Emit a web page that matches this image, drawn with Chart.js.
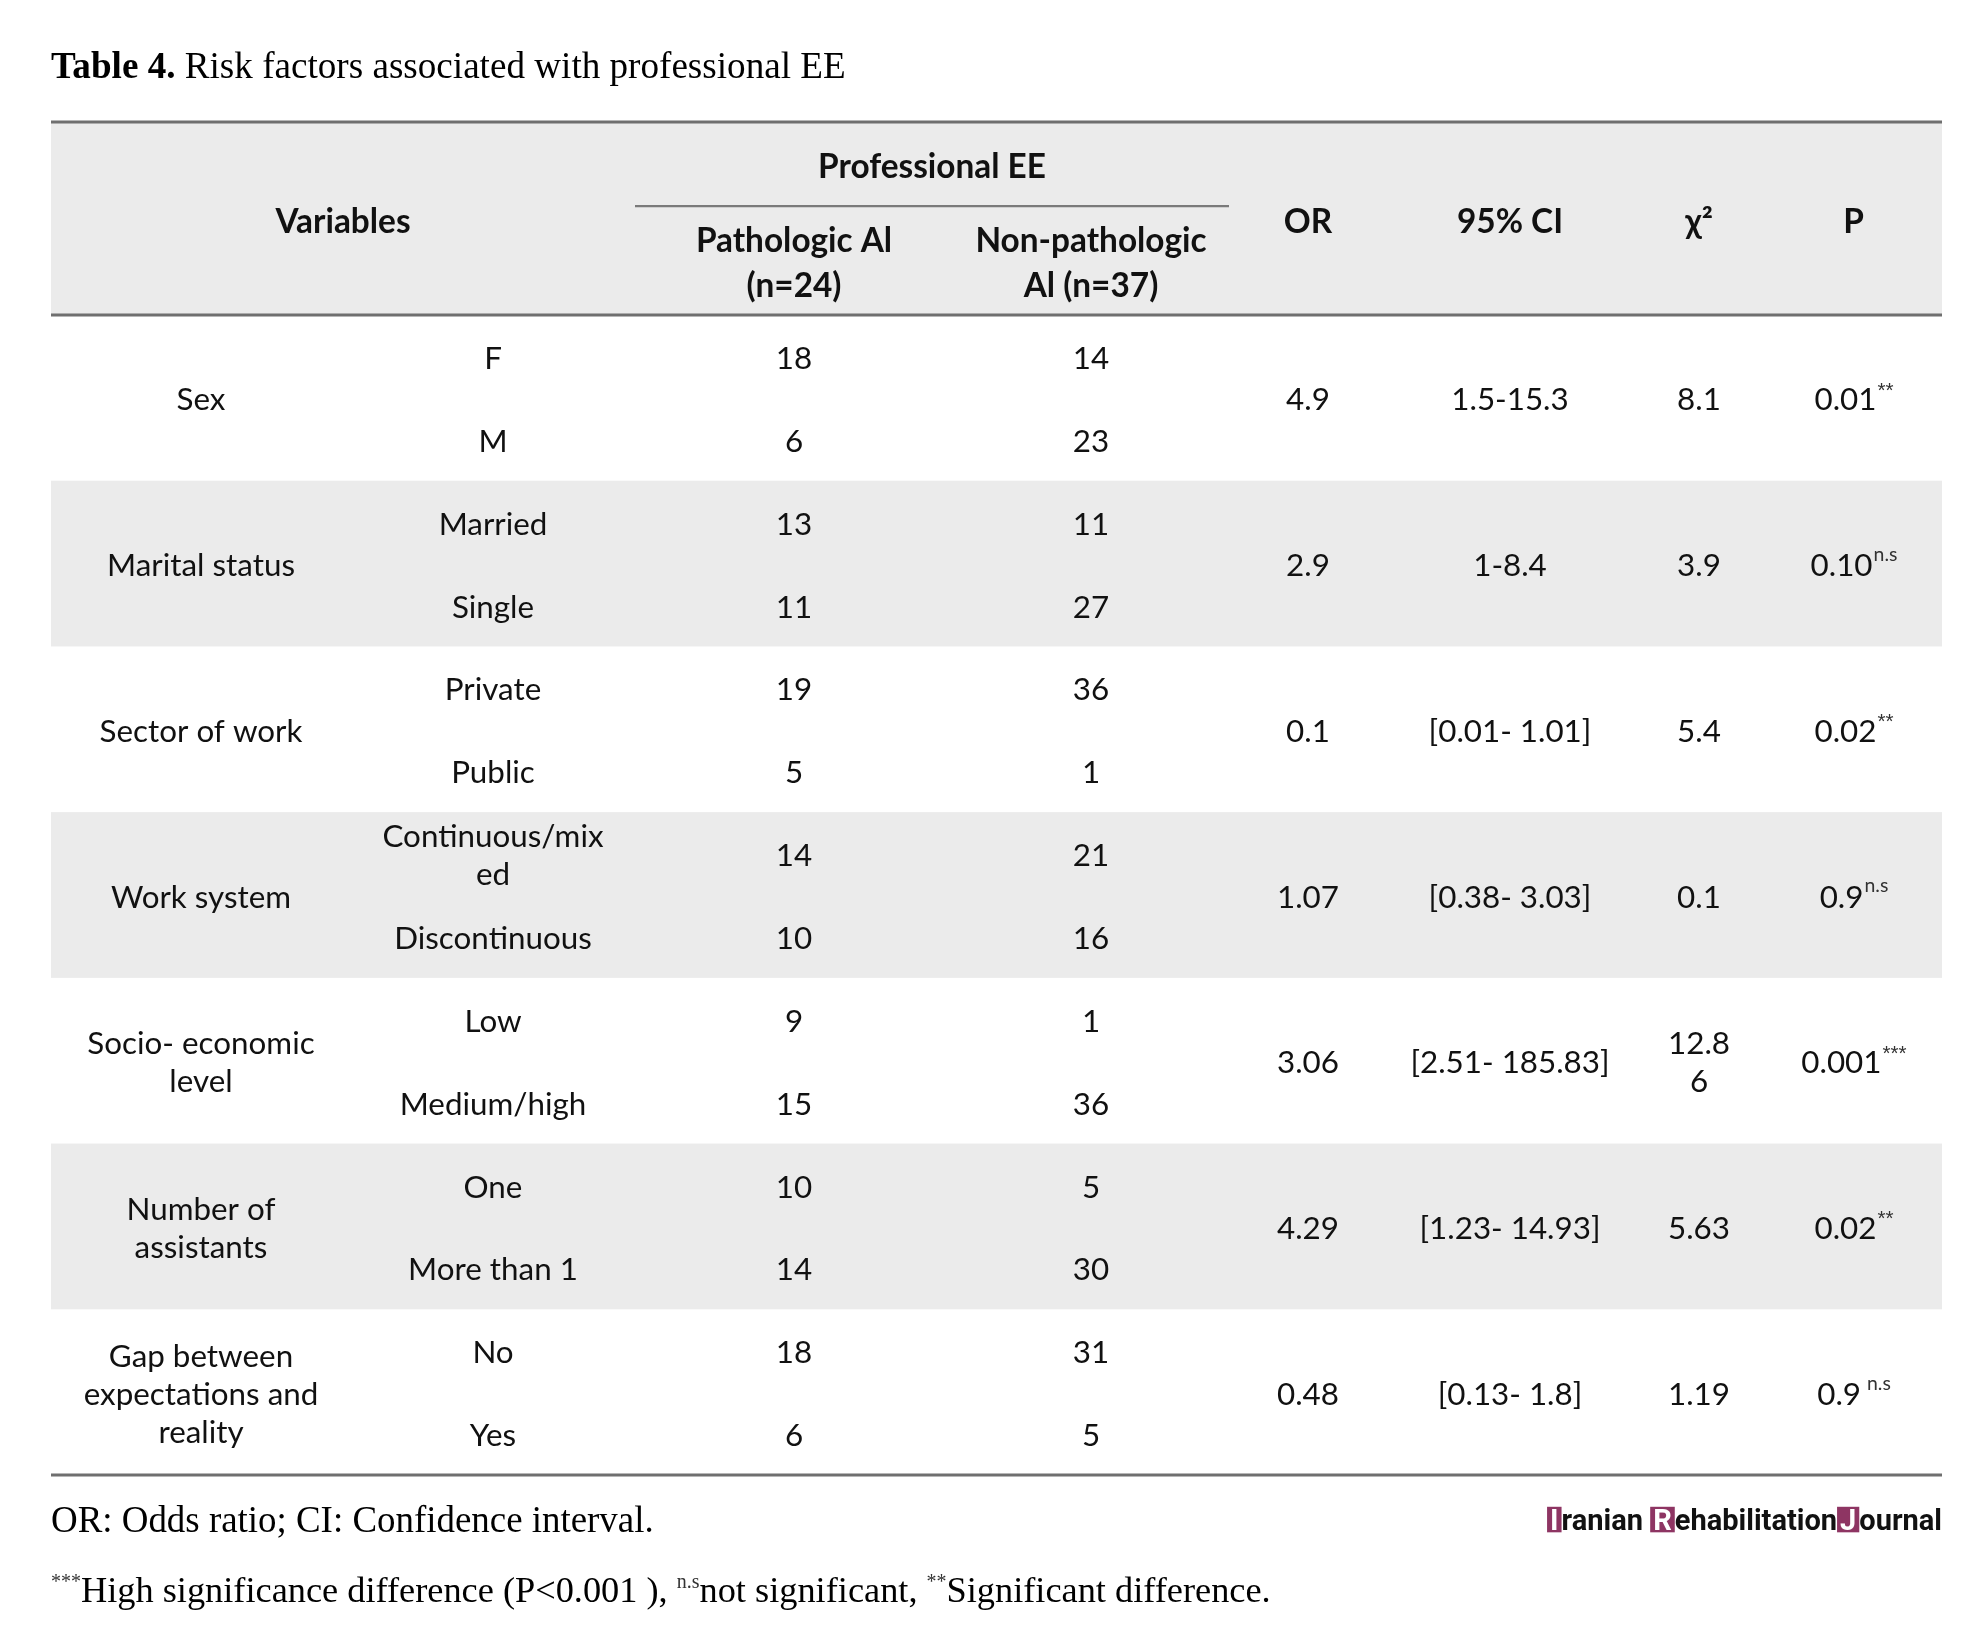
<!DOCTYPE html>
<html>
<head>
<meta charset="utf-8">
<script src="https://cdn.jsdelivr.net/npm/chart.js@4.4.1/dist/chart.umd.min.js"></script>
<style>
  html, body { margin: 0; padding: 0; background: #ffffff; }
  #wrap { position: relative; width: 1978px; height: 1633px; }
</style>
</head>
<body>
<div id="wrap"><canvas id="c"></canvas></div>
<script>
// ---------------- DATA ----------------
const tableTitleBold = "Table 4.";
const tableTitleText = " Risk factors associated with professional EE";
const spanHeader = "Professional EE";
const columnHeaders = ["Variables", "", "Pathologic Al\n(n=24)", "Non-pathologic\nAl (n=37)", "OR", "95% CI", "χ²", "P"];
const groupLabels = ["Sex", "Marital status", "Sector of work", "Work system", "Socio- economic\nlevel", "Number of\nassistants", "Gap between\nexpectations and\nreality"];
const subLabels = ["F", "M", "Married", "Single", "Private", "Public", "Continuous/mix\ned", "Discontinuous", "Low", "Medium/high", "One", "More than 1", "No", "Yes"];
const pathologicAI = [18, 6, 13, 11, 19, 5, 14, 10, 9, 15, 10, 14, 18, 6];
const nonPathologicAI = [14, 23, 11, 27, 36, 1, 21, 16, 1, 36, 5, 30, 31, 5];
const oddsRatio = ["4.9", "2.9", "0.1", "1.07", "3.06", "4.29", "0.48"];
const ci95 = ["1.5-15.3", "1-8.4", "[0.01- 1.01]", "[0.38- 3.03]", "[2.51- 185.83]", "[1.23- 14.93]", "[0.13- 1.8]"];
const chiSquare = ["8.1", "3.9", "5.4", "0.1", "12.8\n6", "5.63", "1.19"];
const pValues = ["0.01", "0.10", "0.02", "0.9", "0.001", "0.02", "0.9"];
const pMarks = ["**", "n.s", "**", "n.s", "***", "**", " n.s"];
const footnote1 = "OR: Odds ratio; CI: Confidence interval.";
const footnote2 = [["***", true], ["High significance difference (P<0.001 ), ", false], ["n.s", true], ["not significant, ", false], ["**", true], ["Significant difference.", false]];
const logoParts = [["I", true], ["ranian ", false], ["R", true], ["ehabilitation", false], ["J", true], ["ournal", false]];

// ---------------- LAYOUT ----------------
const colWidths = [300, 284, 318, 276, 158, 246, 132, 177];
const colEdges = colWidths.reduce((acc, w) => { acc.push(acc[acc.length - 1] + w); return acc; }, [0]);
const colCenter = c => (colEdges[c] + colEdges[c + 1]) / 2;
const TABLE_W = colEdges[colEdges.length - 1];
const N_ROWS = subLabels.length;
const HEADER_TOP = -2.33;
const SUBLINE_Y = -1.315;
const BAND = "#ebebeb";
const RULE = "#6f6f6f";
const INK = "#111111";
const BODY_FONT = "Lato";
const SERIF_FONT = "'Liberation Serif'";
const LOGO_COLOR = "#8e3563";

// ---------------- DATASETS ----------------
const subRowPts = col => subLabels.map((_, i) => ({ x: colCenter(col), y: i + 0.5 }));
const groupPts = col => groupLabels.map((_, g) => ({ x: colCenter(col), y: g * 2 + 1 }));
const cellSets = [
  { label: "Variables", data: groupPts(0), texts: groupLabels },
  { label: "Category", data: subRowPts(1), texts: subLabels },
  { label: "Pathologic Al (n=24)", data: subRowPts(2), texts: pathologicAI.map(String) },
  { label: "Non-pathologic Al (n=37)", data: subRowPts(3), texts: nonPathologicAI.map(String) },
  { label: "OR", data: groupPts(4), texts: oddsRatio },
  { label: "95% CI", data: groupPts(5), texts: ci95 },
  { label: "χ²", data: groupPts(6), texts: chiSquare },
  { label: "P", data: groupPts(7), texts: pValues, marks: pMarks }
];

function fitSize(ctx, parts, family, target) {
  let w = 0;
  parts.forEach(([t, weight, scale]) => { ctx.font = `${weight} ${100 * (scale || 1)}px ${family}`; w += ctx.measureText(t).width; });
  return 100 * target / w;
}

const tablePlugin = {
  id: "tableDraw",
  beforeDatasetsDraw(chart) {
    const { ctx, scales: { x, y } } = chart;
    const L = x.getPixelForValue(0), R = x.getPixelForValue(TABLE_W);
    const yTop = y.getPixelForValue(HEADER_TOP), y0 = y.getPixelForValue(0);
    ctx.save();
    ctx.fillStyle = BAND;
    ctx.fillRect(L, yTop, R - L, y0 - yTop);
    groupLabels.forEach((_, g) => {
      if (g % 2 === 1) {
        const a = y.getPixelForValue(g * 2), b = y.getPixelForValue(g * 2 + 2);
        ctx.fillRect(L, a, R - L, b - a);
      }
    });
    ctx.strokeStyle = RULE;
    ctx.lineWidth = 3;
    [HEADER_TOP, 0, N_ROWS].forEach(v => {
      const p = y.getPixelForValue(v);
      ctx.beginPath(); ctx.moveTo(L, p); ctx.lineTo(R, p); ctx.stroke();
    });
    ctx.lineWidth = 2.2;
    ctx.strokeStyle = "#7a7a7a";
    const ps = y.getPixelForValue(SUBLINE_Y);
    ctx.beginPath(); ctx.moveTo(x.getPixelForValue(colEdges[2]), ps); ctx.lineTo(x.getPixelForValue(colEdges[4]), ps); ctx.stroke();
    ctx.restore();
  },
  afterDatasetsDraw(chart) {
    const { ctx, scales: { x, y } } = chart;
    ctx.save();
    const bodySize = fitSize(ctx, [["Marital status", "400"]], BODY_FONT, 188);
    const headSize = fitSize(ctx, [["Professional EE", "700"]], BODY_FONT, 228);
    const bodyLine = 38, headLine = 45, dy = 2.5;
    ctx.fillStyle = INK;
    ctx.textAlign = "center";
    ctx.textBaseline = "middle";

    const multi = (text, cx, cy, lh) => {
      const lines = text.split("\n");
      lines.forEach((ln, k) => ctx.fillText(ln, cx, cy + (k - (lines.length - 1) / 2) * lh));
    };

    // header
    ctx.font = `700 ${headSize}px ${BODY_FONT}`;
    ctx.fillText(spanHeader, x.getPixelForValue((colEdges[2] + colEdges[4]) / 2), y.getPixelForValue(-1.786));
    columnHeaders.forEach((h, c) => {
      if (!h) return;
      if (c === 0) {
        ctx.fillText(h, x.getPixelForValue((colEdges[0] + colEdges[2]) / 2), y.getPixelForValue(-1.12));
      } else if (h.includes("\n")) {
        multi(h, x.getPixelForValue(colCenter(c)), y.getPixelForValue(-0.62), headLine);
      } else {
        ctx.fillText(h, x.getPixelForValue(colCenter(c)), y.getPixelForValue(-1.12));
      }
    });

    // body cells, drawn at the library's own point positions
    const supFont = m => m.includes("*") ? "'Liberation Sans'" : BODY_FONT;
    ctx.font = `400 ${bodySize}px ${BODY_FONT}`;
    chart.data.datasets.forEach((ds, di) => {
      const meta = chart.getDatasetMeta(di);
      meta.data.forEach((el, i) => {
        const t = ds.texts[i];
        const ey = el.y + dy;
        if (ds.marks) {
          const m = ds.marks[i];
          const supSize = bodySize * (m.includes("*") ? 0.66 : 0.62);
          ctx.font = `400 ${bodySize}px ${BODY_FONT}`;
          const w1 = ctx.measureText(t).width;
          ctx.font = `400 ${supSize}px ${supFont(m)}`;
          const w2 = ctx.measureText(m).width;
          const sx = el.x - (w1 + w2) / 2;
          ctx.textAlign = "left";
          ctx.font = `400 ${bodySize}px ${BODY_FONT}`;
          ctx.fillText(t, sx, ey);
          ctx.font = `400 ${supSize}px ${supFont(m)}`;
          ctx.fillStyle = "#333";
          ctx.fillText(m, sx + w1 + 1, ey - bodySize * (m.includes("*") ? 0.3 : 0.36));
          ctx.fillStyle = INK;
          ctx.textAlign = "center";
          ctx.font = `400 ${bodySize}px ${BODY_FONT}`;
        } else {
          multi(t, el.x, ey, bodyLine);
        }
      });
    });

    // title
    const L = x.getPixelForValue(0), R = x.getPixelForValue(TABLE_W);
    const tSize = fitSize(ctx, [[tableTitleBold, "700"], [tableTitleText, "400"]], SERIF_FONT, 795);
    ctx.textAlign = "left";
    ctx.textBaseline = "alphabetic";
    ctx.fillStyle = "#000";
    ctx.font = `700 ${tSize}px ${SERIF_FONT}`;
    const tyBase = 78;
    ctx.fillText(tableTitleBold, L, tyBase);
    const bw = ctx.measureText(tableTitleBold).width;
    ctx.font = `400 ${tSize}px ${SERIF_FONT}`;
    ctx.fillText(tableTitleText, L + bw, tyBase);

    // footnotes
    const yBottom = y.getPixelForValue(N_ROWS);
    const fSize = fitSize(ctx, [[footnote1, "400"]], SERIF_FONT, 603);
    ctx.font = `400 ${fSize}px ${SERIF_FONT}`;
    ctx.fillText(footnote1, L, yBottom + 57);
    const f2Size = fitSize(ctx, footnote2.map(([t, sup]) => [t, "400", sup ? 0.55 : 1]), SERIF_FONT, 1220);
    let fx = L;
    const f2y = yBottom + 127;
    footnote2.forEach(([t, sup]) => {
      if (sup) {
        ctx.font = `400 ${f2Size * 0.55}px ${SERIF_FONT}`;
        ctx.fillStyle = "#333";
        ctx.fillText(t, fx, f2y - f2Size * 0.38);
      } else {
        ctx.font = `400 ${f2Size}px ${SERIF_FONT}`;
        ctx.fillStyle = "#000";
        ctx.fillText(t, fx, f2y);
      }
      fx += ctx.measureText(t).width;
    });

    // journal logo
    const pad = 3;
    const lSize = fitSize(ctx, logoParts.map(([t]) => [t, "700"]), "Roboto", 395 - pad * 6);
    ctx.font = `700 ${lSize}px Roboto`;
    let total = 0;
    logoParts.forEach(([t, boxed]) => { total += ctx.measureText(t).width + (boxed ? pad * 2 : 0); });
    let lx = R - total;
    const ly = yBottom + 55;
    logoParts.forEach(([t, boxed]) => {
      const w = ctx.measureText(t).width;
      if (boxed) {
        ctx.fillStyle = LOGO_COLOR;
        ctx.fillRect(lx, ly - lSize * 0.8, w + pad * 2, lSize * 0.88);
        ctx.fillStyle = "#ffffff";
        ctx.fillText(t, lx + pad, ly);
        lx += w + pad * 2;
      } else {
        ctx.fillStyle = "#111";
        ctx.fillText(t, lx, ly);
        lx += w;
      }
    });
    ctx.restore();
  }
};

const chart = new Chart(document.getElementById("c"), {
  type: "scatter",
  data: {
    datasets: cellSets.map(s => ({
      label: s.label, data: s.data, texts: s.texts, marks: s.marks,
      pointRadius: 0, pointHoverRadius: 0, showLine: false
    }))
  },
  options: {
    responsive: true,
    maintainAspectRatio: false,
    animation: false,
    events: [],
    layout: { padding: { left: 51, right: 1978 - 51 - TABLE_W, top: 315, bottom: 158 } },
    plugins: { legend: { display: false }, tooltip: { enabled: false }, title: { display: false } },
    scales: {
      x: { type: "linear", min: 0, max: TABLE_W, display: false },
      y: { type: "linear", min: 0, max: N_ROWS, reverse: true, display: false }
    }
  },
  plugins: [tablePlugin]
});
</script>
</body>
</html>
